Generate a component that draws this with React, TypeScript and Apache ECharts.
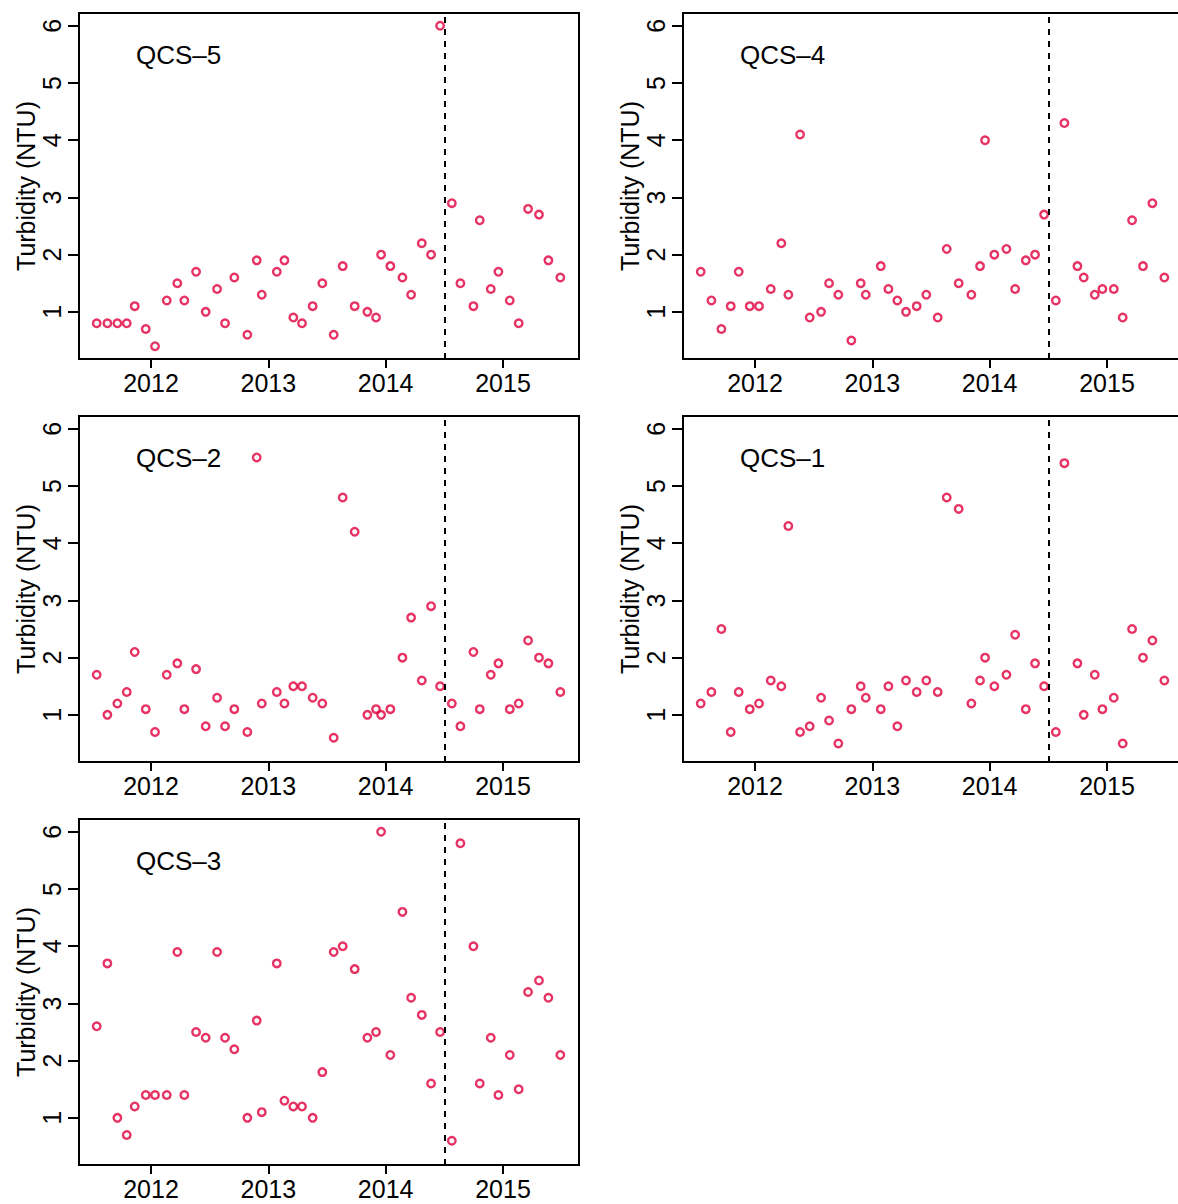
import React, { useEffect, useRef } from "react";
import * as echarts from "echarts";

// Sampling dates (decimal years), shared by all stations
const dates = [
  2011.537, 2011.628, 2011.713, 2011.793, 2011.861, 2011.955, 2012.034, 2012.134,
  2012.224, 2012.284, 2012.384, 2012.466, 2012.563, 2012.631, 2012.71, 2012.821,
  2012.901, 2012.944, 2013.072, 2013.137, 2013.213, 2013.287, 2013.378, 2013.46,
  2013.557, 2013.634, 2013.736, 2013.844, 2013.918, 2013.961, 2014.04, 2014.143,
  2014.217, 2014.308, 2014.387, 2014.464, 2014.564, 2014.637, 2014.748, 2014.802,
  2014.896, 2014.961, 2015.058, 2015.134, 2015.214, 2015.307, 2015.387, 2015.489,
];

const qcs5 = [0.8, 0.8, 0.8, 0.8, 1.1, 0.7, 0.4, 1.2, 1.5, 1.2, 1.7, 1.0, 1.4, 0.8, 1.6, 0.6, 1.9, 1.3, 1.7, 1.9, 0.9, 0.8, 1.1, 1.5, 0.6, 1.8, 1.1, 1.0, 0.9, 2.0, 1.8, 1.6, 1.3, 2.2, 2.0, 6.0, 2.9, 1.5, 1.1, 2.6, 1.4, 1.7, 1.2, 0.8, 2.8, 2.7, 1.9, 1.6];
const qcs4 = [1.7, 1.2, 0.7, 1.1, 1.7, 1.1, 1.1, 1.4, 2.2, 1.3, 4.1, 0.9, 1.0, 1.5, 1.3, 0.5, 1.5, 1.3, 1.8, 1.4, 1.2, 1.0, 1.1, 1.3, 0.9, 2.1, 1.5, 1.3, 1.8, 4.0, 2.0, 2.1, 1.4, 1.9, 2.0, 2.7, 1.2, 4.3, 1.8, 1.6, 1.3, 1.4, 1.4, 0.9, 2.6, 1.8, 2.9, 1.6];
const qcs2 = [1.7, 1.0, 1.2, 1.4, 2.1, 1.1, 0.7, 1.7, 1.9, 1.1, 1.8, 0.8, 1.3, 0.8, 1.1, 0.7, 5.5, 1.2, 1.4, 1.2, 1.5, 1.5, 1.3, 1.2, 0.6, 4.8, 4.2, 1.0, 1.1, 1.0, 1.1, 2.0, 2.7, 1.6, 2.9, 1.5, 1.2, 0.8, 2.1, 1.1, 1.7, 1.9, 1.1, 1.2, 2.3, 2.0, 1.9, 1.4];
const qcs1 = [1.2, 1.4, 2.5, 0.7, 1.4, 1.1, 1.2, 1.6, 1.5, 4.3, 0.7, 0.8, 1.3, 0.9, 0.5, 1.1, 1.5, 1.3, 1.1, 1.5, 0.8, 1.6, 1.4, 1.6, 1.4, 4.8, 4.6, 1.2, 1.6, 2.0, 1.5, 1.7, 2.4, 1.1, 1.9, 1.5, 0.7, 5.4, 1.9, 1.0, 1.7, 1.1, 1.3, 0.5, 2.5, 2.0, 2.3, 1.6];
const qcs3 = [2.6, 3.7, 1.0, 0.7, 1.2, 1.4, 1.4, 1.4, 3.9, 1.4, 2.5, 2.4, 3.9, 2.4, 2.2, 1.0, 2.7, 1.1, 3.7, 1.3, 1.2, 1.2, 1.0, 1.8, 3.9, 4.0, 3.6, 2.4, 2.5, 6.0, 2.1, 4.6, 3.1, 2.8, 1.6, 2.5, 0.6, 5.8, 4.0, 1.6, 2.4, 1.4, 2.1, 1.5, 3.2, 3.4, 3.1, 2.1];

const stations = ["QCS–5", "QCS–4", "QCS–2", "QCS–1", "QCS–3"];
const stationValues = [qcs5, qcs4, qcs2, qcs1, qcs3];
const xTicks = [2012, 2013, 2014, 2015];
const yTicks = [1, 2, 3, 4, 5, 6];
const interventionDate = 2014.5;
const xRange = [2011.386, 2015.648];
const yRange = [0.176, 6.224];

const panelPos = [
  { left: 79, top: 13 },
  { left: 683, top: 13 },
  { left: 79, top: 416 },
  { left: 683, top: 416 },
  { left: 79, top: 819 },
];
const PW = 500;
const PH = 346;
const FONT = "'Liberation Sans', Arial, Helvetica, sans-serif";
const RED = "#E0003C";

export default function App() {
  const ref = useRef<HTMLDivElement>(null);
  useEffect(() => {
    if (!ref.current) return;
    const chart = echarts.init(ref.current, null, { renderer: "svg" });
    const grid = panelPos.map((p) => ({
      left: p.left,
      top: p.top,
      width: PW,
      height: PH,
      show: true,
      borderColor: "#000",
      borderWidth: 2,
      backgroundColor: "transparent",
      containLabel: false,
    }));
    const xAxis = panelPos.map((_, i) => ({
      type: "value",
      gridIndex: i,
      min: xRange[0],
      max: xRange[1],
      axisLine: { show: false },
      splitLine: { show: false },
      axisTick: {
        show: true,
        inside: false,
        length: 9,
        customValues: xTicks,
        lineStyle: { color: "#000", width: 2 },
      },
      axisLabel: {
        show: true,
        customValues: xTicks,
        formatter: (v: number) => String(Math.round(v)),
        fontSize: 25,
        color: "#000",
        fontFamily: FONT,
        margin: 11,
      },
    }));
    const yAxis = panelPos.map((_, i) => ({
      type: "value",
      gridIndex: i,
      min: yRange[0],
      max: yRange[1],
      name: "Turbidity (NTU)",
      nameLocation: "middle",
      nameGap: 41,
      nameTextStyle: { fontSize: 25, color: "#000", fontFamily: FONT },
      axisLine: { show: false },
      splitLine: { show: false },
      axisTick: {
        show: true,
        inside: false,
        length: 11,
        customValues: yTicks,
        lineStyle: { color: "#000", width: 2 },
      },
      axisLabel: {
        show: true,
        customValues: yTicks,
        formatter: (v: number) => String(Math.round(v)),
        rotate: 90,
        fontSize: 25,
        color: "#000",
        fontFamily: FONT,
        margin: 15,
      },
    }));
    const series = stationValues.map((vals, i) => ({
      type: "scatter",
      xAxisIndex: i,
      yAxisIndex: i,
      symbol: "circle",
      symbolSize: 7.5,
      itemStyle: { color: "transparent", borderColor: RED, borderWidth: 2.4 },
      data: vals.map((v, k) => [dates[k], v]),
      markLine: {
        silent: true,
        symbol: ["none", "none"],
        label: { show: false },
        lineStyle: { color: "#000", type: [6, 6], width: 2 },
        data: [{ xAxis: interventionDate }],
      },
    }));
    const title = stations.map((s, i) => ({
      text: s,
      left: panelPos[i].left + 57,
      top: panelPos[i].top + 29,
      padding: 0,
      textStyle: { fontSize: 26, fontWeight: "normal", color: "#000", fontFamily: FONT },
    }));
    chart.setOption({
      animation: false,
      backgroundColor: "#fff",
      textStyle: { fontFamily: FONT },
      title,
      grid,
      xAxis,
      yAxis,
      series,
    });
    return () => chart.dispose();
  }, []);
  return (
    <div
      style={{
        position: "absolute",
        left: 0,
        top: 0,
        width: 1178,
        height: 1204,
        overflow: "hidden",
        background: "#fff",
      }}
    >
      <div ref={ref} style={{ width: 1192, height: 1204 }} />
    </div>
  );
}
